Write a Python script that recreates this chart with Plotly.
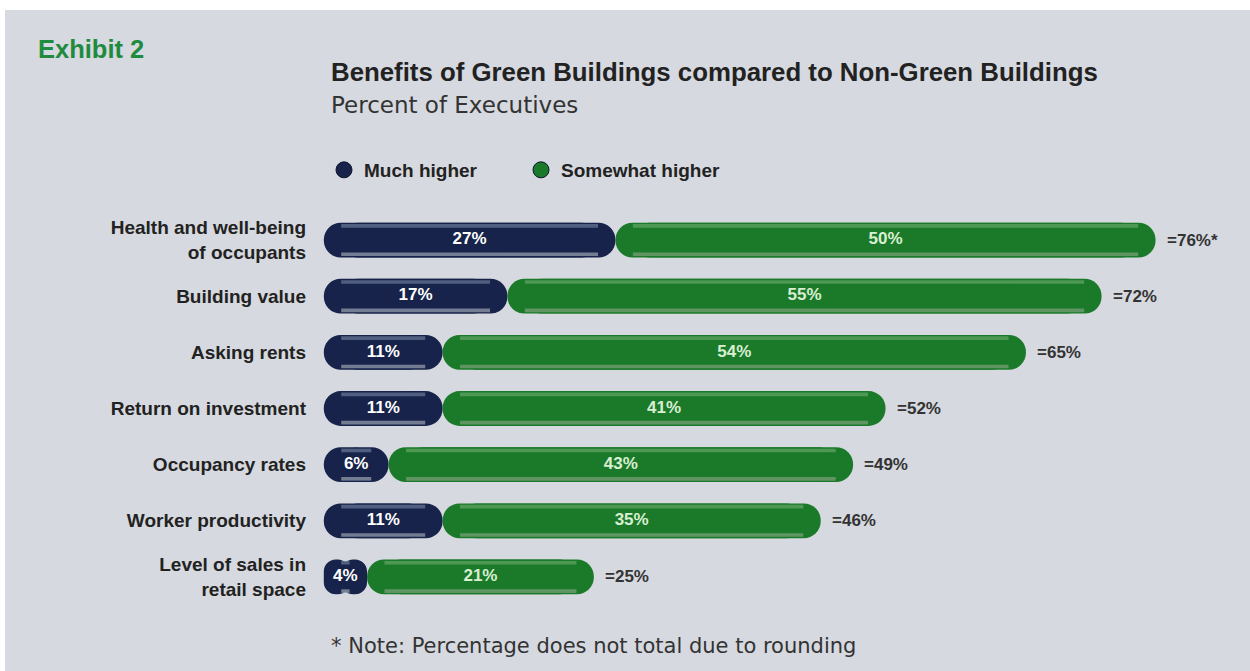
import plotly.graph_objects as go

categories = ["Health and well-being<br>of occupants", "Building value", "Asking rents",
              "Return on investment", "Occupancy rates", "Worker productivity",
              "Level of sales in<br>retail space"]
much_higher = [27, 17, 11, 11, 6, 11, 4]
somewhat_higher = [50, 55, 54, 41, 43, 35, 21]
total_labels = ["=76%*", "=72%", "=65%", "=52%", "=49%", "=46%", "=25%"]
series_names = ["Much higher", "Somewhat higher"]

NAVY = "#17234a"
NAVY_TOP = "#5f6f8e"
NAVY_BOT = "#8c93a3"
GREEN = "#1b7a2a"
GREEN_TOP = "#5aa05c"
GREEN_BOT = "#6f9c70"
BG = "#d6d9df"
FONT = "Liberation Sans"

W, H = 1250, 671
L, R, T, B = 313, 8, 212, 66
XMIN, XMAX = -1, 85
PW = W - L - R
PH = H - T - B
PX_PER_UNIT = PW / (XMAX - XMIN)


def px2x(p):
    return (p - L) / PW


def px2y(q):
    return (H - B - q) / PH


fig = go.Figure()

BAR_W = 0.62
RAD_UNITS = (BAR_W * PH / len(categories)) / 2 / PX_PER_UNIT


def add_capsule(starts, lengths, color, top, bot):
    ends = [s + l for s, l in zip(starts, lengths)]
    # right piece: rounded right end, starts one radius in from the left end
    r_base = [min(s + RAD_UNITS, s + l / 2) for s, l in zip(starts, lengths)]
    fig.add_trace(go.Bar(
        y=categories, x=[e - b for e, b in zip(ends, r_base)], base=r_base, orientation="h",
        width=BAR_W, marker=dict(color=color, cornerradius="50%", line=dict(width=0)),
        showlegend=False, hoverinfo="skip"))
    # left piece: rounded left end, starts one radius in from the right end
    l_base = [max(e - RAD_UNITS, s + l / 2) for s, e, l in zip(starts, ends, lengths)]
    fig.add_trace(go.Bar(
        y=categories, x=[s - b for s, b in zip(starts, l_base)], base=l_base, orientation="h",
        width=BAR_W, marker=dict(color=color, cornerradius="50%", line=dict(width=0)),
        showlegend=False, hoverinfo="skip"))
    # highlight strips
    inset = RAD_UNITS * 1.0
    strip_base = [s + inset for s in starts]
    strip_len = [max(l - 2 * inset, 0) for l in lengths]
    for col, off in ((top, -BAR_W / 2 + 0.025), (bot, BAR_W / 2 - 0.025 - 0.065)):
        fig.add_trace(go.Bar(
            y=categories, x=strip_len, base=strip_base, orientation="h",
            width=0.065, offset=off, marker=dict(color=col, line=dict(width=0)),
            opacity=0.8, showlegend=False, hoverinfo="skip"))


add_capsule([0] * len(much_higher), much_higher, NAVY, NAVY_TOP, NAVY_BOT)
add_capsule(much_higher, somewhat_higher, GREEN, GREEN_TOP, GREEN_BOT)

# segment labels
fig.add_trace(go.Scatter(
    y=categories, x=[v / 2 for v in much_higher], mode="text",
    text=[f"{v}%" for v in much_higher],
    textfont=dict(color="white", size=17, family=FONT, weight="bold"),
    showlegend=False, hoverinfo="skip"))
fig.add_trace(go.Scatter(
    y=categories, x=[m + s / 2 for m, s in zip(much_higher, somewhat_higher)], mode="text",
    text=[f"{v}%" for v in somewhat_higher],
    textfont=dict(color="#d9efd2", size=17, family=FONT, weight="bold"),
    showlegend=False, hoverinfo="skip"))

# totals
for cat, m, s, lab in zip(categories, much_higher, somewhat_higher, total_labels):
    fig.add_annotation(x=m + s, y=cat, text=lab, xanchor="left", showarrow=False,
                       xshift=9, font=dict(size=17, color="#333333", family=FONT,
                                           weight="bold"))

# legend entries (one legend each, so they can be placed freely)
for name, col, lg in zip(series_names, [NAVY, GREEN], ["legend", "legend2"]):
    fig.add_trace(go.Scatter(
        x=[None], y=[None], mode="markers", name=name, legend=lg,
        marker=dict(symbol="circle", size=20, color=col, line=dict(color="#0c1530", width=1))))

fig.add_annotation(xref="paper", yref="paper", x=px2x(36), y=px2y(49), text="<b>Exhibit 2</b>",
                   xanchor="left", yanchor="middle", showarrow=False,
                   font=dict(size=25.5, color="#1f8b3f", family=FONT))
fig.add_annotation(xref="paper", yref="paper", x=px2x(329), y=px2y(72),
                   text="<b>Benefits of Green Buildings compared to Non-Green Buildings</b>",
                   xanchor="left", yanchor="middle", showarrow=False,
                   font=dict(size=25.8, color="#222222", family=FONT))
fig.add_annotation(xref="paper", yref="paper", x=px2x(329), y=px2y(105),
                   text="Percent of Executives",
                   xanchor="left", yanchor="middle", showarrow=False,
                   font=dict(size=23, color="#333333", family="DejaVu Sans"))
fig.add_annotation(xref="paper", yref="paper", x=px2x(329), y=px2y(646),
                   text="* Note: Percentage does not total due to rounding",
                   xanchor="left", yanchor="middle", showarrow=False,
                   font=dict(size=21, color="#333333", family="DejaVu Sans"))

legend_font = dict(size=19, color="#222222", family=FONT, weight="bold")
fig.update_layout(
    width=W, height=H,
    margin=dict(l=L, r=R, t=T, b=B),
    paper_bgcolor=BG, plot_bgcolor=BG,
    barmode="overlay",
    xaxis=dict(range=[XMIN, XMAX], visible=False, fixedrange=True),
    yaxis=dict(categoryorder="array", categoryarray=categories, autorange="reversed",
               showgrid=False, zeroline=False, showline=False, ticks="",
               ticklabelstandoff=6,
               tickfont=dict(size=19, color="#222222", family=FONT, weight="bold")),
    showlegend=True,
    legend=dict(orientation="h", x=px2x(324), y=px2y(170), xanchor="left", yanchor="middle",
                bgcolor="rgba(0,0,0,0)", font=legend_font, itemwidth=30),
    legend2=dict(orientation="h", x=px2x(521), y=px2y(170), xanchor="left", yanchor="middle",
                 bgcolor="rgba(0,0,0,0)", font=legend_font, itemwidth=30),
    shapes=[dict(type="rect", xref="paper", yref="paper", x0=px2x(0), x1=px2x(W),
                 y0=px2y(0), y1=px2y(10), fillcolor="white", line=dict(width=0), layer="below"),
            dict(type="rect", xref="paper", yref="paper", x0=px2x(0), x1=px2x(5),
                 y0=px2y(0), y1=px2y(H), fillcolor="white", line=dict(width=0), layer="below")],
)

fig.write_html("out.html")
